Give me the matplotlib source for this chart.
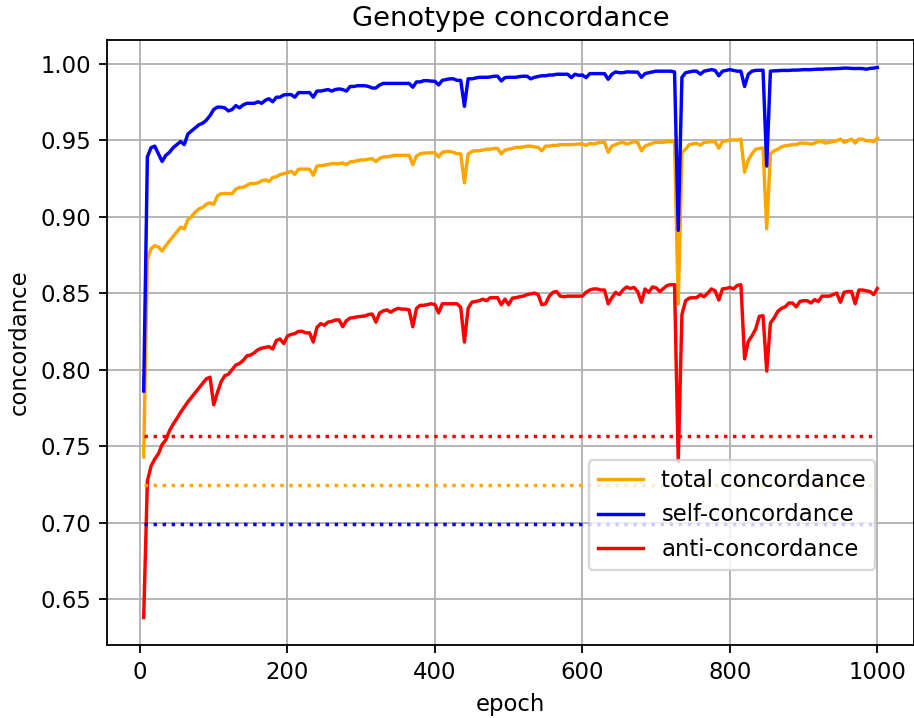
import numpy as np
import matplotlib
matplotlib.use("Agg")
import matplotlib.pyplot as plt

epochs = list(range(5, 1001, 5))

self_conc = [
    0.786, 0.939, 0.945, 0.946, 0.941, 0.936, 0.940, 0.942, 0.945, 0.947, 0.949, 0.947, 0.954, 0.956, 0.958, 0.960, 0.961, 0.963, 0.966, 0.970,
    0.9715, 0.9715, 0.971, 0.969, 0.970, 0.9725, 0.971, 0.973, 0.974, 0.974, 0.974, 0.975, 0.974, 0.976, 0.977, 0.975, 0.978, 0.978, 0.9795, 0.9797,
    0.9797, 0.978, 0.981, 0.981, 0.981, 0.981, 0.978, 0.982, 0.982, 0.9825, 0.983, 0.982, 0.983, 0.9834, 0.983, 0.982, 0.985, 0.985, 0.9855, 0.9855,
    0.9855, 0.985, 0.984, 0.984, 0.986, 0.987, 0.987, 0.987, 0.987, 0.987, 0.987, 0.987, 0.987, 0.9845, 0.988, 0.988, 0.9888, 0.9888, 0.9885, 0.9884,
    0.986, 0.989, 0.9895, 0.990, 0.990, 0.989, 0.989, 0.972, 0.990, 0.990, 0.9905, 0.991, 0.991, 0.991, 0.9912, 0.9917, 0.9917, 0.9886, 0.9908, 0.991,
    0.991, 0.991, 0.9915, 0.9917, 0.9917, 0.990, 0.991, 0.9915, 0.992, 0.992, 0.9925, 0.9925, 0.993, 0.993, 0.993, 0.993, 0.9908, 0.993, 0.9923, 0.9925,
    0.9908, 0.9934, 0.9934, 0.9934, 0.9934, 0.9934, 0.9897, 0.993, 0.9945, 0.994, 0.994, 0.9945, 0.9945, 0.9944, 0.9944, 0.991, 0.9934, 0.994, 0.9945, 0.995,
    0.995, 0.995, 0.995, 0.995, 0.9945, 0.891, 0.991, 0.994, 0.9945, 0.995, 0.995, 0.993, 0.995, 0.9955, 0.996, 0.9955, 0.992, 0.995, 0.9955, 0.996,
    0.9955, 0.995, 0.995, 0.985, 0.993, 0.995, 0.9955, 0.9956, 0.9956, 0.933, 0.995, 0.9952, 0.9953, 0.9955, 0.9955, 0.9955, 0.9957, 0.9957, 0.9958, 0.996,
    0.996, 0.996, 0.9962, 0.9963, 0.9963, 0.9965, 0.9965, 0.9966, 0.9967, 0.9968, 0.997, 0.997, 0.9968, 0.9967, 0.9968, 0.9967, 0.9963, 0.9968, 0.997, 0.9974,
]

total_conc = [
    0.743, 0.872, 0.879, 0.881, 0.880, 0.8775, 0.881, 0.884, 0.887, 0.890, 0.893, 0.892, 0.898, 0.900, 0.903, 0.905, 0.906, 0.908, 0.909, 0.908,
    0.9135, 0.915, 0.915, 0.915, 0.915, 0.918, 0.919, 0.919, 0.9205, 0.9215, 0.9215, 0.922, 0.9233, 0.924, 0.923, 0.9255, 0.926, 0.9274, 0.928, 0.9287,
    0.9296, 0.9276, 0.931, 0.931, 0.931, 0.931, 0.927, 0.933, 0.9333, 0.9335, 0.934, 0.9346, 0.9346, 0.9345, 0.935, 0.934, 0.9357, 0.936, 0.9365, 0.937,
    0.937, 0.9375, 0.9378, 0.936, 0.938, 0.939, 0.939, 0.9395, 0.940, 0.940, 0.940, 0.940, 0.940, 0.934, 0.9396, 0.941, 0.9415, 0.9415, 0.9417, 0.9417,
    0.939, 0.942, 0.9425, 0.9425, 0.942, 0.941, 0.941, 0.922, 0.9408, 0.9426, 0.943, 0.943, 0.9435, 0.944, 0.944, 0.9445, 0.9445, 0.941, 0.9434, 0.944,
    0.9445, 0.9452, 0.9452, 0.9455, 0.946, 0.946, 0.9455, 0.9452, 0.943, 0.946, 0.946, 0.9465, 0.9465, 0.947, 0.947, 0.947, 0.947, 0.9472, 0.9474, 0.9474,
    0.9465, 0.9478, 0.9474, 0.948, 0.9485, 0.9485, 0.942, 0.946, 0.947, 0.948, 0.9485, 0.9474, 0.948, 0.949, 0.9485, 0.943, 0.946, 0.947, 0.948, 0.9485,
    0.9485, 0.9485, 0.949, 0.949, 0.9495, 0.843, 0.942, 0.944, 0.947, 0.9475, 0.9478, 0.9467, 0.9485, 0.9487, 0.949, 0.949, 0.9447, 0.949, 0.9495, 0.950,
    0.950, 0.950, 0.9506, 0.929, 0.937, 0.941, 0.944, 0.9445, 0.9448, 0.892, 0.941, 0.943, 0.944, 0.9455, 0.9463, 0.9465, 0.947, 0.947, 0.948, 0.948,
    0.9478, 0.9474, 0.948, 0.949, 0.949, 0.948, 0.9485, 0.949, 0.9495, 0.9506, 0.9485, 0.9495, 0.9506, 0.948, 0.9506, 0.9505, 0.9495, 0.9495, 0.949, 0.9513,
]

anti_conc = [
    0.638, 0.727, 0.737, 0.7415, 0.745, 0.751, 0.754, 0.760, 0.7644, 0.768, 0.772, 0.7755, 0.779, 0.782, 0.785, 0.788, 0.791, 0.794, 0.795, 0.777,
    0.785, 0.792, 0.796, 0.797, 0.800, 0.803, 0.804, 0.806, 0.809, 0.8095, 0.811, 0.813, 0.814, 0.8145, 0.815, 0.8135, 0.819, 0.820, 0.817, 0.822,
    0.823, 0.8235, 0.825, 0.825, 0.824, 0.824, 0.818, 0.8276, 0.830, 0.829, 0.831, 0.8315, 0.8324, 0.8325, 0.828, 0.832, 0.8337, 0.834, 0.8345, 0.8348,
    0.835, 0.836, 0.8363, 0.831, 0.837, 0.8384, 0.839, 0.8375, 0.839, 0.840, 0.8395, 0.8395, 0.839, 0.828, 0.840, 0.842, 0.842, 0.8425, 0.843, 0.8425,
    0.837, 0.843, 0.843, 0.843, 0.843, 0.843, 0.8407, 0.818, 0.840, 0.844, 0.8445, 0.845, 0.846, 0.845, 0.847, 0.847, 0.847, 0.8424, 0.846, 0.8424,
    0.8467, 0.847, 0.8476, 0.848, 0.849, 0.8495, 0.850, 0.849, 0.8424, 0.843, 0.848, 0.8505, 0.851, 0.848, 0.8476, 0.848, 0.848, 0.848, 0.848, 0.848,
    0.8505, 0.852, 0.8527, 0.8527, 0.852, 0.852, 0.843, 0.847, 0.8505, 0.849, 0.852, 0.854, 0.853, 0.8537, 0.851, 0.844, 0.8527, 0.8505, 0.854, 0.8535,
    0.851, 0.853, 0.855, 0.8555, 0.8555, 0.740, 0.836, 0.845, 0.8467, 0.847, 0.847, 0.849, 0.8476, 0.850, 0.8527, 0.8515, 0.8455, 0.8527, 0.853, 0.8537,
    0.8527, 0.855, 0.8554, 0.807, 0.8185, 0.822, 0.8265, 0.8348, 0.8352, 0.799, 0.8304, 0.8337, 0.838, 0.840, 0.841, 0.8435, 0.8435, 0.841, 0.8445, 0.845,
    0.845, 0.8435, 0.8457, 0.8445, 0.848, 0.848, 0.848, 0.849, 0.850, 0.844, 0.8505, 0.851, 0.851, 0.843, 0.852, 0.852, 0.8515, 0.851, 0.849, 0.853,
]

# baseline (dotted) levels
baseline_total = 0.7245
baseline_self = 0.699
baseline_anti = 0.7565

labels = ["total concordance", "self-concordance", "anti-concordance"]
colors = ["orange", "blue", "red"]

W, H = 914, 718
DPI = 164
fig = plt.figure(figsize=(W / DPI, H / DPI), dpi=DPI)
ax = fig.add_axes([107 / W, (H - 645) / H, (914 - 107) / W, (645 - 40) / H])

ax.plot(epochs, total_conc, color=colors[0], label=labels[0])
ax.plot(epochs, self_conc, color=colors[1], label=labels[1])
ax.plot(epochs, anti_conc, color=colors[2], label=labels[2])

ends = [epochs[0], epochs[-1]]
ax.plot(ends, [baseline_total] * 2, color=colors[0], linestyle=":")
ax.plot(ends, [baseline_self] * 2, color=colors[1], linestyle=":")
ax.plot(ends, [baseline_anti] * 2, color=colors[2], linestyle=":")

ax.grid(True)
ax.set_title("Genotype concordance")
ax.set_xlabel("epoch")
ax.set_ylabel("concordance")
ax.legend(loc="lower right", bbox_to_anchor=(0.952, 0.124), borderaxespad=0)

fig.savefig("out.png", dpi=DPI)
